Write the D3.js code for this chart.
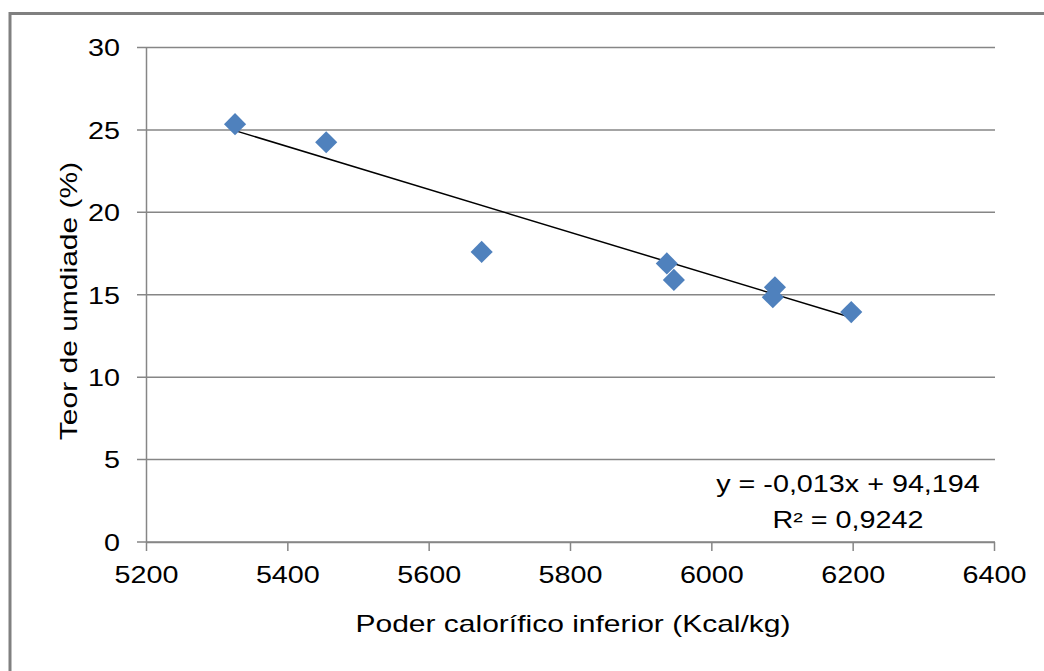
<!DOCTYPE html>
<html>
<head>
<meta charset="utf-8">
<script src="https://cdn.jsdelivr.net/npm/d3@7"></script>
<style>
  html, body { margin: 0; padding: 0; background: #fff; }
  svg { display: block; font-family: "Liberation Sans", Arial, sans-serif; }
</style>
</head>
<body>
<svg id="chart" width="1044" height="671"></svg>
<script>
/* data */
const pci = [5326, 5455, 5675, 5937, 5947, 6090, 6087, 6198]
const umidade = [25.35, 24.25, 17.6, 16.9, 15.9, 15.45, 14.85, 13.95]
const xTicks = [5200, 5400, 5600, 5800, 6000, 6200, 6400]
const yTicks = [0, 5, 10, 15, 20, 25, 30]
const trendSlope = -0.013
const trendIntercept = 94.194
const equationLines = ["y = -0,013x + 94,194", "R\u00b2 = 0,9242"]
const xTitle = "Poder calor\u00edfico inferior (Kcal/kg)"
const yTitle = "Teor de umdiade (%)"

/* layout */
const width = 1044
const height = 671
const plotLeft = 146
const plotRight = 994
const plotTop = 47.5
const plotBottom = 542
const stretch = 1.25   // text in the picture is drawn wider than normal
const gridColor = "#868686"

const svg = d3.select("#chart")

svg.append("rect")
.attr("width", width)
.attr("height", height)
.attr("fill", "#fff")

/* outer chart border (runs off right and bottom edges) */
svg.append("rect")
.attr("x", 10)
.attr("y", 13.5)
.attr("width", 1100)
.attr("height", 700)
.attr("fill", "none")
.attr("stroke", "#808080")
.attr("stroke-width", 3)

const x = d3.scaleLinear([5200, 6400], [plotLeft, plotRight])
const y = d3.scaleLinear([0, 30], [plotBottom, plotTop])

/* horizontal grid lines */
svg.append("g")
.selectAll("line")
.data(yTicks)
.join("line")
.attr("x1", plotLeft - 9)
.attr("x2", plotRight + 1)
.attr("y1", d => y(d))
.attr("y2", d => y(d))
.attr("stroke", gridColor)
.attr("stroke-width", 1.5)

/* x axis */
svg.append("g")
.attr("transform", `translate(0,${plotBottom})`)
.call(d3.axisBottom(x).tickValues(xTicks).tickFormat(d3.format("d")).tickSize(9).tickSizeOuter(0))
.call(g => g.select(".domain").attr("stroke", gridColor).attr("stroke-width", 1.5))
.call(g => g.selectAll(".tick line").attr("stroke", gridColor).attr("stroke-width", 1.5))
.call(g => g.selectAll(".tick text")
  .attr("fill", "#000")
  .attr("font-size", 23)
  .attr("font-family", "Liberation Sans, Arial, sans-serif")
  .attr("y", 41)
  .attr("dy", 0)
  .attr("transform", `scale(${stretch},1)`))

/* y axis */
svg.append("g")
.attr("transform", `translate(${plotLeft},0)`)
.call(d3.axisLeft(y).tickValues(yTicks).tickSize(0).tickSizeOuter(0))
.call(g => g.select(".domain").attr("stroke", gridColor).attr("stroke-width", 1.5))
.call(g => g.selectAll(".tick text")
  .attr("fill", "#000")
  .attr("font-size", 23)
  .attr("font-family", "Liberation Sans, Arial, sans-serif")
  .attr("x", -26 / stretch)
  .attr("dy", "0.36em")
  .attr("transform", `scale(${stretch},1)`))

/* linear trend line over the data range */
const xMin = d3.min(pci)
const xMax = d3.max(pci)
svg.append("path")
.attr("fill", "none")
.attr("stroke", "#000")
.attr("stroke-width", 1.5)
.attr("d", d3.line()([
  [x(xMin), y(trendSlope * xMin + trendIntercept)],
  [x(xMax), y(trendSlope * xMax + trendIntercept)]
]))

/* markers: blue diamonds */
svg.append("g")
.selectAll("path")
.data(pci.map((v, i) => [v, umidade[i]]))
.join("path")
.attr("transform", d => `translate(${x(d[0])},${y(d[1])}) rotate(45)`)
.attr("d", d3.symbol(d3.symbolSquare, 245))
.attr("fill", "#4f81bd")

/* trend line equation */
svg.append("g")
.selectAll("text")
.data(equationLines)
.join("text")
.attr("transform", (d, i) => `translate(848,${492 + i * 36}) scale(${stretch},1)`)
.attr("text-anchor", "middle")
.attr("font-size", 23)
.attr("fill", "#000")
.text(d => d)

/* axis titles */
svg.append("text")
.attr("transform", `translate(573,632) scale(${stretch},1)`)
.attr("text-anchor", "middle")
.attr("font-size", 24)
.attr("fill", "#000")
.text(xTitle)

svg.append("text")
.attr("transform", `translate(77,301) rotate(-90) scale(${stretch},1)`)
.attr("text-anchor", "middle")
.attr("font-size", 24)
.attr("fill", "#000")
.text(yTitle)
</script>
</body>
</html>
